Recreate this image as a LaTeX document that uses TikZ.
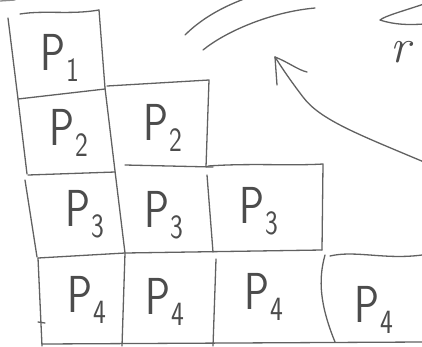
\documentclass[tikz,border=0pt]{standalone}
\usepackage{fontspec}
\usetikzlibrary{arrows.meta}
\newcommand{\plab}[1]{\scalebox{0.8}[1]{P\kern1pt\raisebox{-0.22em}{\fontsize{34}{34}\selectfont #1}}}
\begin{document}
\begin{tikzpicture}[x=1pt,y=-1pt,
  pen/.style={draw=black!62, line width=1.3pt, line cap=round, line join=round},
  lab/.style={text=black!70, font=\fontsize{52}{52}\selectfont\sffamily, inner sep=0pt}]
\useasboundingbox (0,0) rectangle (422,346);
\clip (0,0) rectangle (422,346);
\fill[white] (0,0) rectangle (422,346);
% stray mark top-left
\draw[pen, draw=black!45] (0,1) -- (15,0);
% column 1 outer left edge
\draw[pen] (8,18) -- (18,99) -- (27,174);
\draw[pen] (25,180) -- (37,257);
\draw[pen] (38,258) -- (42,346);
\draw[pen] (38,322) -- (45,323);
% P1 box
\draw[pen] (20,14) .. controls (45,10) and (70,15) .. (99,10);
\draw[pen] (99,10) -- (105,88);
\draw[pen] (18,99) -- (105,89);
% column 1 right edge
\draw[pen] (105,88) -- (115,171) -- (125,253) -- (122,346);
% P2 second column
\draw[pen] (107,86) -- (209,80) -- (206,167);
\draw[pen] (28,175) -- (115,172);
\draw[pen] (125,165) -- (213,167);
% column 2 right edge rows 3-4
\draw[pen] (207,175) -- (213,252);
\draw[pen] (216,259) -- (213,346);
% P3 third column
\draw[pen] (208,166) .. controls (250,163) and (290,166) .. (323,164) -- (322,250);
\draw[pen] (38,258) -- (125,253) -- (322,250);
% row 4 fourth column
\draw[pen] (325,255) .. controls (318,280) and (320,305) .. (335,342);
\draw[pen] (330,256) .. controls (355,250) and (385,260) .. (422,255);
\draw[pen] (42,344) -- (422,342);
% labels
\node[lab] (p1)  at (60,58)  {\plab{1}};
\node[lab] (p2a) at (69,133) {\plab{2}};
\node[lab] (p2b) at (163,128) {\plab{2}};
\node[lab] (p3a) at (85,214) {\plab{3}};
\node[lab] (p3b) at (164,215) {\plab{3}};
\node[lab] (p3c) at (259,211) {\plab{3}};
\node[lab] (p4a) at (87,300) {\plab{4}};
\node[lab] (p4b) at (165,302) {\plab{4}};
\node[lab] (p4c) at (264,297) {\plab{4}};
\node[lab] (p4d) at (374,310) {\plab{4}};
% arcs top
\draw[pen] (185,35) .. controls (200,20) and (220,8) .. (244,-1);
\draw[pen] (203,50) .. controls (225,32) and (270,12) .. (315,8);
% arrow
\coordinate (tip) at (275,57);
\coordinate (tail) at (424,162);
\draw[pen] (tail) .. controls (360,135) and (320,120) .. (303,97) .. controls (290,80) and (282,68) .. (tip);
\draw[pen] (tip) -- (277,85);
\draw[pen] (tip) .. controls (288,62) and (298,70) .. (307,72);
% top right shape
\draw[pen] (424,4) .. controls (400,12) and (385,16) .. (380,20) .. controls (395,25) and (410,25) .. (424,24);
\node[text=black!70, font=\fontsize{48}{48}\selectfont\itshape, inner sep=0pt] (r) at (400,52) {r};
\end{tikzpicture}
\end{document}
